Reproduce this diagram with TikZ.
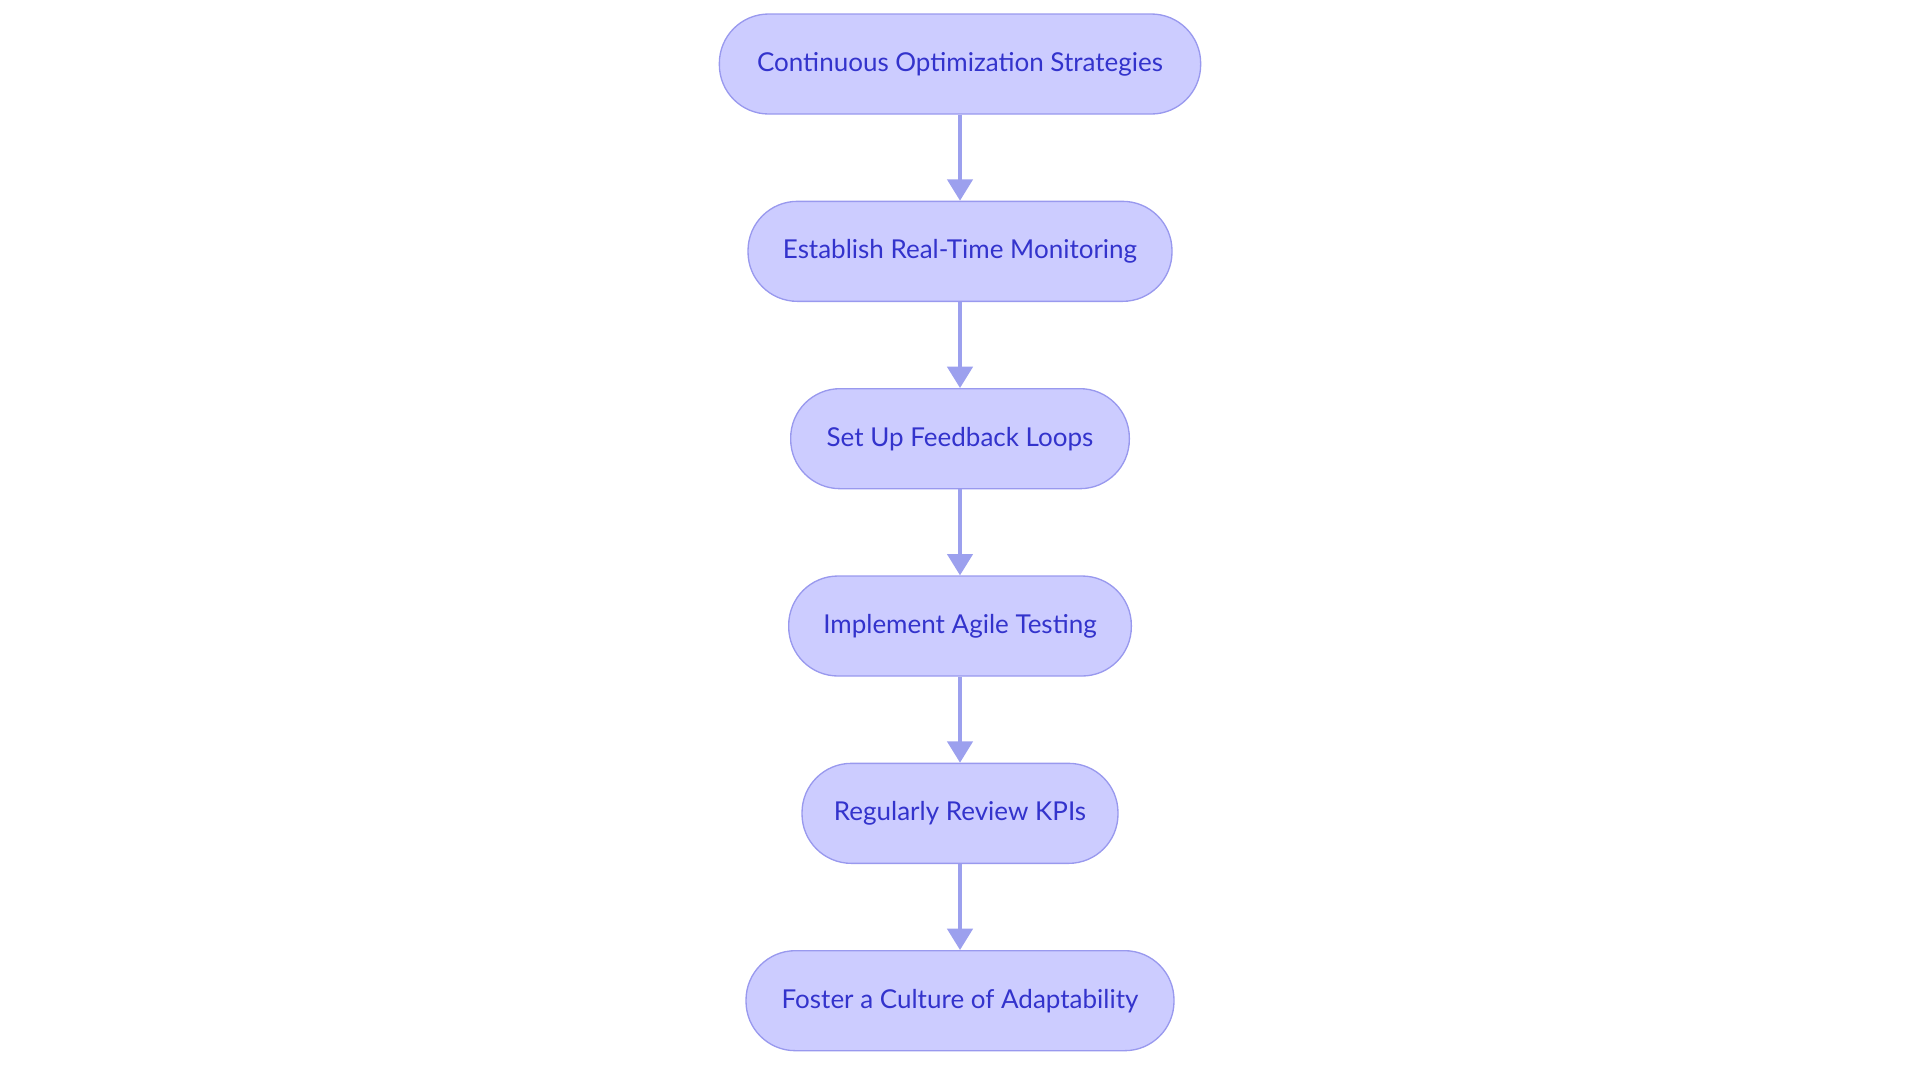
\documentclass[tikz,border=0pt]{standalone}
\usepackage{fontspec}
\setmainfont{Lato}
\usetikzlibrary{positioning}
\usetikzlibrary{arrows.meta}
\definecolor{boxfill}{HTML}{CCCCFF}
\definecolor{boxline}{HTML}{9999EE}
\definecolor{boxtext}{HTML}{3333CC}
\definecolor{arrowcol}{HTML}{9CA0EE}

\begin{document}
\begin{tikzpicture}[x=0.75pt,y=-0.75pt,
                          node distance=64.5pt,
                          stepnode/.style={draw=boxline, fill=boxfill, line width=1pt, text=boxtext,
                                           rounded corners=37pt, minimum height=75pt, inner sep=0pt, font=\fontsize{19.5}{23}\selectfont},
                          flow/.style={draw=arrowcol, line width=2.6pt, -{Triangle[length=16pt,width=19pt]}},
                      ]
                      \useasboundingbox (0,0) rectangle (1920,1083);
                      %Nodes
                      \node[stepnode, minimum width=361pt]   (cont)                       at (960,64) {Continuous Optimization Strategies};
                      \node[stepnode, minimum width=318pt]   (monitor)  [below=of cont]    {Establish Real-Time Monitoring};
                      \node[stepnode, minimum width=254pt]   (feedback) [below=of monitor] {Set Up Feedback Loops};
                      \node[stepnode, minimum width=257pt]   (agile)    [below=of feedback] {Implement Agile Testing};
                      \node[stepnode, minimum width=237pt]   (kpi)      [below=of agile]   {Regularly Review KPIs};
                      \node[stepnode, minimum width=321pt]   (culture)  [below=of kpi]     {Foster a Culture of Adaptability};

                      %Lines
                      \draw[flow] (cont.south) -- (monitor.north);
                      \draw[flow] (monitor.south) -- (feedback.north);
                      \draw[flow] (feedback.south) -- (agile.north);
                      \draw[flow] (agile.south) -- (kpi.north);
                      \draw[flow] (kpi.south) -- (culture.north);
                  \end{tikzpicture}
\end{document}
